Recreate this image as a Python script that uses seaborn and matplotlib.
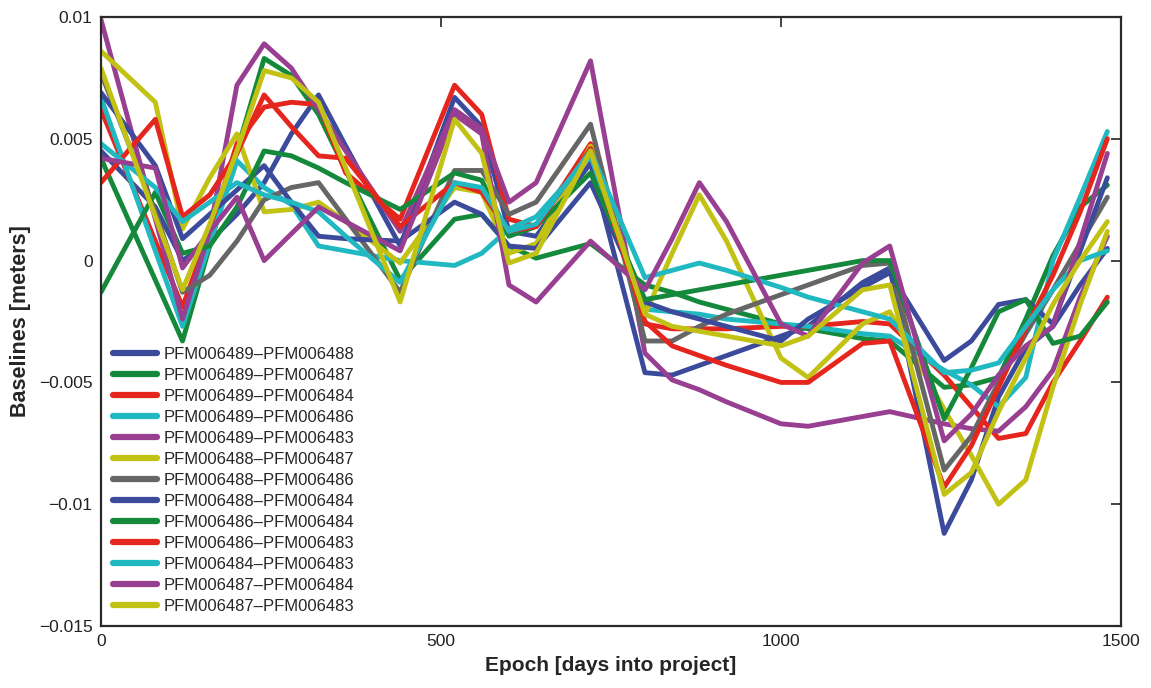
import matplotlib
matplotlib.use("Agg")
import matplotlib.pyplot as plt
import seaborn as sns
import pandas as pd

days = [0, 80, 120, 160, 200, 240, 280, 320, 360, 440, 520, 560, 600, 640, 720,
        800, 840, 880, 920, 1000, 1040, 1120, 1160, 1240, 1280, 1320, 1360, 1400, 1440, 1480]

pair_labels = [
    "PFM006489–PFM006488", "PFM006489–PFM006487", "PFM006489–PFM006484",
    "PFM006489–PFM006486", "PFM006489–PFM006483", "PFM006488–PFM006487",
    "PFM006488–PFM006486", "PFM006488–PFM006484", "PFM006486–PFM006484",
    "PFM006486–PFM006483", "PFM006484–PFM006483", "PFM006487–PFM006484",
    "PFM006487–PFM006483",
]

b_489_488 = [0.0045, 0.0022, 0.0000, 0.0008, 0.0019, 0.0032, 0.0052, 0.0068, 0.0047, 0.0006,
             0.0067, 0.0055, 0.0012, 0.0010, 0.0040, -0.0046, -0.0047, -0.0043, -0.0039, -0.0031,
             -0.0027, -0.0009, -0.0003, -0.0112, -0.0090, -0.0056, -0.0036, -0.0027, -0.0010, 0.0005]
b_489_487 = [0.0042, -0.0008, -0.0033, 0.0006, 0.0045, 0.0083, 0.0076, 0.0060, 0.0037, -0.0008,
             0.0017, 0.0019, 0.0006, 0.0001, 0.0007, -0.0010, -0.0013, -0.0017, -0.0020, -0.0026,
             -0.0028, -0.0032, -0.0033, -0.0052, -0.0051, -0.0048, -0.0024, 0.0002, 0.0022, 0.0031]
b_489_484 = [0.0062, 0.0008, -0.0019, 0.0012, 0.0048, 0.0063, 0.0065, 0.0064, 0.0036, 0.0017,
             0.0072, 0.0060, 0.0017, 0.0014, 0.0048, -0.0026, -0.0028, -0.0028, -0.0028, -0.0027,
             -0.0027, -0.0025, -0.0026, -0.0047, -0.0060, -0.0073, -0.0071, -0.0050, -0.0033, -0.0015]
b_489_486 = [0.0067, 0.0004, -0.0027, 0.0007, 0.0041, 0.0030, 0.0023, 0.0006, 0.0004, 0.0000,
             -0.0002, 0.0003, 0.0013, 0.0018, 0.0043, -0.0020, -0.0021, -0.0022, -0.0024, -0.0026,
             -0.0027, -0.0030, -0.0031, -0.0045, -0.0051, -0.0060, -0.0048, 0.0000, 0.0026, 0.0053]
b_489_483 = [0.0099, 0.0017, -0.0024, 0.0012, 0.0072, 0.0089, 0.0079, 0.0062, 0.0045, 0.0012,
             0.0062, 0.0054, 0.0024, 0.0032, 0.0082, -0.0038, -0.0049, -0.0053, -0.0058, -0.0067,
             -0.0068, -0.0064, -0.0062, -0.0067, -0.0069, -0.0070, -0.0060, -0.0045, -0.0015, 0.0010]
b_488_487 = [0.0086, 0.0065, 0.0013, 0.0034, 0.0052, 0.0020, 0.0021, 0.0024, 0.0016, -0.0001,
             0.0030, 0.0028, 0.0003, 0.0007, 0.0047, -0.0022, 0.0003, 0.0027, 0.0008, -0.0040,
             -0.0048, -0.0026, -0.0021, -0.0061, -0.0080, -0.0100, -0.0090, -0.0052, -0.0018, 0.0012]
b_488_486 = [0.0077, 0.0020, -0.0013, -0.0006, 0.0008, 0.0025, 0.0030, 0.0032, 0.0017, -0.0013,
             0.0037, 0.0037, 0.0019, 0.0024, 0.0056, -0.0033, -0.0033, -0.0027, -0.0022, -0.0014,
             -0.0010, -0.0002, -0.0001, -0.0086, -0.0072, -0.0050, -0.0030, -0.0012, 0.0007, 0.0026]
b_488_484 = [0.0069, 0.0039, 0.0009, 0.0019, 0.0029, 0.0039, 0.0024, 0.0010, 0.0009, 0.0008,
             0.0024, 0.0019, 0.0006, 0.0005, 0.0032, -0.0017, -0.0021, -0.0024, -0.0027, -0.0033,
             -0.0024, -0.0011, -0.0005, -0.0041, -0.0033, -0.0018, -0.0016, -0.0026, 0.0004, 0.0034]
b_486_484 = [-0.0013, 0.0028, 0.0003, 0.0006, 0.0022, 0.0045, 0.0043, 0.0038, 0.0032, 0.0021,
             0.0036, 0.0033, 0.0010, 0.0014, 0.0036, -0.0016, -0.0014, -0.0012, -0.0010, -0.0006,
             -0.0004, 0.0000, 0.0000, -0.0065, -0.0044, -0.0021, -0.0016, -0.0034, -0.0031, -0.0017]
b_486_483 = [0.0032, 0.0058, 0.0018, 0.0027, 0.0044, 0.0068, 0.0055, 0.0043, 0.0042, 0.0014,
             0.0032, 0.0028, 0.0012, 0.0014, 0.0046, -0.0025, -0.0035, -0.0039, -0.0043, -0.0050,
             -0.0050, -0.0034, -0.0033, -0.0093, -0.0076, -0.0052, -0.0028, -0.0006, 0.0020, 0.0050]
b_484_483 = [0.0048, 0.0030, 0.0016, 0.0024, 0.0032, 0.0027, 0.0024, 0.0020, 0.0010, -0.0009,
             0.0032, 0.0030, 0.0012, 0.0015, 0.0045, -0.0007, -0.0004, -0.0001, -0.0004, -0.0011,
             -0.0015, -0.0021, -0.0024, -0.0046, -0.0045, -0.0042, -0.0027, -0.0012, 0.0000, 0.0004]
b_487_484 = [0.0042, 0.0038, -0.0003, 0.0012, 0.0026, 0.0000, 0.0011, 0.0022, 0.0016, 0.0004,
             0.0060, 0.0052, -0.0010, -0.0017, 0.0008, -0.0012, 0.0009, 0.0032, 0.0016, -0.0026,
             -0.0031, -0.0001, 0.0006, -0.0074, -0.0063, -0.0047, -0.0035, -0.0027, 0.0008, 0.0044]
b_487_483 = [0.0079, 0.0018, -0.0012, 0.0015, 0.0045, 0.0078, 0.0075, 0.0065, 0.0038, -0.0017,
             0.0058, 0.0044, -0.0001, 0.0003, 0.0045, -0.0022, -0.0027, -0.0029, -0.0031, -0.0035,
             -0.0031, -0.0012, -0.0010, -0.0096, -0.0087, -0.0062, -0.0040, -0.0018, 0.0000, 0.0016]

series = [b_489_488, b_489_487, b_489_484, b_489_486, b_489_483, b_488_487, b_488_486,
          b_488_484, b_486_484, b_486_483, b_484_483, b_487_484, b_487_483]

colors = ["#3c4a9b", "#14893b", "#e5261f", "#20b8c1", "#983f91", "#c2c214", "#666666",
          "#3c4a9b", "#14893b", "#e5261f", "#20b8c1", "#983f91", "#c2c214"]

xticks = [0, 500, 1000, 1500]
yticks = [-0.015, -0.01, -0.005, 0, 0.005, 0.01]
ytick_labels = ["−0.015", "−0.01", "−0.005", "0", "0.005", "0.01"]

rows = []
for lab, vals in zip(pair_labels, series):
    for d, v in zip(days, vals):
        rows.append({"day": d, "baseline": v, "pair": lab})
df = pd.DataFrame(rows)

sns.set_style("white")
plt.rcParams["font.family"] = ["Liberation Sans", "DejaVu Sans"]

fig = plt.figure(figsize=(11.51, 6.88), dpi=100)
ax = fig.add_axes([0.0877, 0.0901, 0.8862, 0.8852])

sns.lineplot(data=df, x="day", y="baseline", hue="pair", hue_order=pair_labels,
             palette=colors, estimator=None, linewidth=3.5, ax=ax, sort=False)

ax.set_xlim(0, 1500)
ax.set_ylim(-0.015, 0.01)
ax.set_xticks(xticks)
ax.set_xticklabels([str(t) for t in xticks])
ax.set_yticks(yticks)
ax.set_yticklabels(ytick_labels)
ax.tick_params(direction="in", top=True, right=True, length=7, width=1.2,
               labelsize=12.5, colors="#222222", pad=6)
for s in ax.spines.values():
    s.set_visible(True)
    s.set_linewidth(1.6)
    s.set_color("#2a2a2a")

ax.set_xlabel("Epoch [days into project]", fontsize=15, fontweight="bold", labelpad=5)
ax.set_ylabel("Baselines [meters]", fontsize=15.5, fontweight="bold", labelpad=6)

leg = ax.legend(loc="lower left", bbox_to_anchor=(0.0, 0.0), frameon=False,
                fontsize=12, handlelength=2.6, handletextpad=0.4,
                labelspacing=0.36, borderaxespad=0.35)
for h in leg.get_lines():
    h.set_linewidth(4.5)

fig.savefig("out.png", dpi=100)
